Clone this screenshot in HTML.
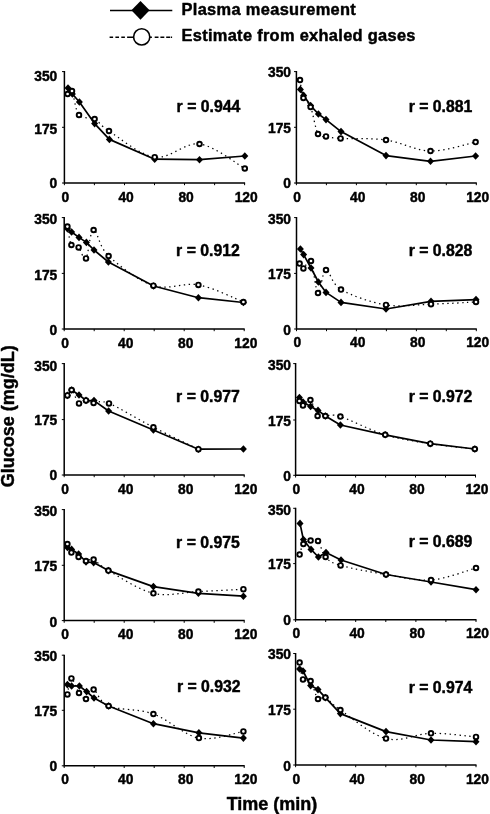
<!DOCTYPE html>
<html lang="en"><head><meta charset="utf-8"><title>Glucose: plasma vs exhaled-gas estimate</title>
<style>
html,body{margin:0;padding:0;background:#fff;}
svg{display:block;font-family:"Liberation Sans",Arial,Helvetica,sans-serif;font-weight:bold;fill:#000;}
text{stroke:#000;stroke-width:0.45px;stroke-linejoin:round}
.ax{stroke:#000;stroke-width:1.5;fill:none;stroke-linecap:butt}
.tk{stroke:#000;stroke-width:1;fill:none}
.sl{stroke:#000;stroke-width:1.7;fill:none;stroke-linejoin:round}
.dl{stroke:#000;stroke-width:1.25;fill:none;stroke-dasharray:1.4 3.5}
.c{fill:#fff;stroke:#000;stroke-width:1.9}
.d{fill:#000;stroke:none}
.t{font-size:13.8px}
.r{font-size:15.8px}
</style></head><body>
<svg width="490" height="814" viewBox="0 0 490 814">
<rect width="490" height="814" fill="#fff"/>

<g id="legend">
<path class="ax" style="stroke-width:1.5" d="M110 10.6H172.3"/>
<path class="d" d="M140.5 0.9L149.6 10.3L140.5 19.7L131.4 10.3Z"/>
<path d="M109.6 37.2H113.1M115.4 37.2H119M121.3 37.2H124.9M127.1 37.2H133M150 37.2H151.9M154.7 37.2H158.5M160.4 37.2H164.3M166.2 37.2H170M170.7 37.2H172.1" style="stroke:#000;stroke-width:1.6;fill:none"/>
<circle cx="141.7" cy="36.9" r="8.1" style="fill:#fff;stroke:#000;stroke-width:1.6"/>
<text x="181.5" y="14.7" style="font-size:16.4px;letter-spacing:0.34px">Plasma measurement</text>
<text x="181.5" y="41.4" style="font-size:16.4px;letter-spacing:0.31px">Estimate from exhaled gases</text>
</g>
<text transform="translate(13.8 416.2) rotate(-90)" text-anchor="middle" style="font-size:18px">Glucose (mg/dL)</text>
<text x="272" y="809.6" text-anchor="middle" style="font-size:18px">Time (min)</text>
<g id="p1">
<path class="ax" d="M64.4 71.1V183.0H245.1"/>
<path class="tk" d="M62.0 71.6H64.4M62.0 127.3H64.4M62.0 183.0H64.4M64.4 183.0V185.2M94.4 183.0V185.2M124.5 183.0V185.2M154.5 183.0V185.2M184.5 183.0V185.2M214.6 183.0V185.2M244.6 183.0V185.2"/>
<text class="t" x="57.3" y="80.8" text-anchor="end">350</text>
<text class="t" x="57.3" y="133.8" text-anchor="end">175</text>
<text class="t" x="57.3" y="188.1" text-anchor="end">0</text>
<text class="t" x="65.4" y="201.5" text-anchor="middle">0</text>
<text class="t" x="126.1" y="201.5" text-anchor="middle">40</text>
<text class="t" x="186.1" y="201.5" text-anchor="middle">80</text>
<text class="t" x="246.2" y="201.5" text-anchor="middle">120</text>
<path class="dl" d="M67.6 94.0 C68.3 93.5 70.1 87.5 72.0 91.0 C73.9 94.5 75.2 110.3 79.0 115.0 C82.8 119.7 89.6 116.3 94.6 119.0 C99.6 121.7 99.0 124.6 109.0 131.0 C119.0 137.4 139.6 155.0 154.7 157.2 C169.8 159.4 184.5 142.1 199.5 144.0 C214.5 145.9 237.2 164.4 244.8 168.5"/>
<path class="sl" d="M68.0 88.0 L72.4 94.0 L79.4 102.0 L94.6 123.6 L109.4 139.4 L154.7 159.2 L199.5 159.7 L244.8 156.0"/>
<path class="d" d="M68.0 84.2L71.5 88.0L68.0 91.8L64.5 88.0Z"/>
<path class="d" d="M72.4 90.2L75.9 94.0L72.4 97.8L68.9 94.0Z"/>
<path class="d" d="M79.4 98.2L82.9 102.0L79.4 105.8L75.9 102.0Z"/>
<path class="d" d="M94.6 119.8L98.1 123.6L94.6 127.4L91.1 123.6Z"/>
<path class="d" d="M109.4 135.6L112.9 139.4L109.4 143.2L105.9 139.4Z"/>
<path class="d" d="M154.7 155.4L158.2 159.2L154.7 163.0L151.2 159.2Z"/>
<path class="d" d="M199.5 155.9L203.0 159.7L199.5 163.5L196.0 159.7Z"/>
<path class="d" d="M244.8 152.2L248.3 156.0L244.8 159.8L241.3 156.0Z"/>
<circle class="c" cx="67.6" cy="94.0" r="2.3"/>
<circle class="c" cx="72.0" cy="91.0" r="2.3"/>
<circle class="c" cx="79.0" cy="115.0" r="2.3"/>
<circle class="c" cx="94.6" cy="119.0" r="2.3"/>
<circle class="c" cx="109.0" cy="131.0" r="2.3"/>
<circle class="c" cx="154.7" cy="157.2" r="2.3"/>
<circle class="c" cx="199.5" cy="144.0" r="2.3"/>
<circle class="c" cx="244.8" cy="168.5" r="2.3"/>
<text class="r" x="176.6" y="111.9">r = 0.944</text>
</g>
<g id="p2">
<path class="ax" d="M296.4 71.1V183.0H476.8"/>
<path class="tk" d="M294.0 71.6H296.4M294.0 127.3H296.4M294.0 183.0H296.4M296.4 183.0V185.2M326.4 183.0V185.2M356.4 183.0V185.2M386.3 183.0V185.2M416.3 183.0V185.2M446.3 183.0V185.2M476.3 183.0V185.2"/>
<text class="t" x="291.0" y="76.9" text-anchor="end">350</text>
<text class="t" x="291.0" y="133.3" text-anchor="end">175</text>
<text class="t" x="291.0" y="188.1" text-anchor="end">0</text>
<text class="t" x="297.2" y="201.5" text-anchor="middle">0</text>
<text class="t" x="357.8" y="201.5" text-anchor="middle">40</text>
<text class="t" x="417.7" y="201.5" text-anchor="middle">80</text>
<text class="t" x="477.7" y="201.5" text-anchor="middle">120</text>
<path class="dl" d="M300.0 80.0 C300.6 83.0 301.6 93.5 303.4 98.0 C305.2 102.5 308.2 101.0 310.6 107.0 C313.0 113.0 315.4 129.1 318.0 134.0 C320.6 138.9 322.2 135.7 326.0 136.4 C329.8 137.1 330.6 137.8 340.6 138.4 C350.6 139.0 371.0 137.9 386.0 140.0 C401.0 142.1 415.6 150.7 430.5 151.0 C445.4 151.3 468.1 143.6 475.6 142.1"/>
<path class="sl" d="M300.4 89.4 L303.6 95.4 L310.6 105.6 L318.4 114.0 L326.0 119.6 L341.0 131.6 L386.0 155.6 L430.5 161.3 L475.6 156.0"/>
<path class="d" d="M300.4 85.6L303.9 89.4L300.4 93.2L296.9 89.4Z"/>
<path class="d" d="M303.6 91.6L307.1 95.4L303.6 99.2L300.1 95.4Z"/>
<path class="d" d="M310.6 101.8L314.1 105.6L310.6 109.4L307.1 105.6Z"/>
<path class="d" d="M318.4 110.2L321.9 114.0L318.4 117.8L314.9 114.0Z"/>
<path class="d" d="M326.0 115.8L329.5 119.6L326.0 123.4L322.5 119.6Z"/>
<path class="d" d="M341.0 127.8L344.5 131.6L341.0 135.4L337.5 131.6Z"/>
<path class="d" d="M386.0 151.8L389.5 155.6L386.0 159.4L382.5 155.6Z"/>
<path class="d" d="M430.5 157.5L434.0 161.3L430.5 165.1L427.0 161.3Z"/>
<path class="d" d="M475.6 152.2L479.1 156.0L475.6 159.8L472.1 156.0Z"/>
<circle class="c" cx="300.0" cy="80.0" r="2.3"/>
<circle class="c" cx="303.4" cy="98.0" r="2.3"/>
<circle class="c" cx="310.6" cy="107.0" r="2.3"/>
<circle class="c" cx="318.0" cy="134.0" r="2.3"/>
<circle class="c" cx="326.0" cy="136.4" r="2.3"/>
<circle class="c" cx="340.6" cy="138.4" r="2.3"/>
<circle class="c" cx="386.0" cy="140.0" r="2.3"/>
<circle class="c" cx="430.5" cy="151.0" r="2.3"/>
<circle class="c" cx="475.6" cy="142.1" r="2.3"/>
<text class="r" x="408.7" y="112.0">r = 0.881</text>
</g>
<g id="p3">
<path class="ax" d="M64.2 217.1V329.0H244.7"/>
<path class="tk" d="M61.8 217.6H64.2M61.8 273.4H64.2M61.8 329.0H64.2M64.2 329.0V331.2M94.2 329.0V331.2M124.2 329.0V331.2M154.2 329.0V331.2M184.2 329.0V331.2M214.2 329.0V331.2M244.2 329.0V331.2"/>
<text class="t" x="57.3" y="224.1" text-anchor="end">350</text>
<text class="t" x="57.3" y="279.8" text-anchor="end">175</text>
<text class="t" x="57.3" y="335.0" text-anchor="end">0</text>
<text class="t" x="65.2" y="347.5" text-anchor="middle">0</text>
<text class="t" x="125.8" y="347.5" text-anchor="middle">40</text>
<text class="t" x="185.8" y="347.5" text-anchor="middle">80</text>
<text class="t" x="245.8" y="347.5" text-anchor="middle">120</text>
<path class="dl" d="M67.4 226.6 C68.1 229.7 69.5 241.5 71.4 245.0 C73.3 248.5 76.2 245.2 78.6 247.4 C81.0 249.6 83.5 261.3 86.0 258.4 C88.5 255.5 89.8 230.4 93.6 230.0 C97.4 229.6 98.6 246.7 108.6 256.0 C118.6 265.3 138.4 280.9 153.4 285.7 C168.4 290.5 183.4 282.2 198.4 284.9 C213.4 287.6 235.9 299.1 243.4 302.0"/>
<path class="sl" d="M67.4 228.6 L71.6 232.0 L79.0 237.4 L86.4 242.4 L94.0 250.0 L108.4 262.0 L153.6 286.0 L198.4 297.7 L243.4 302.5"/>
<path class="d" d="M67.4 224.8L70.9 228.6L67.4 232.4L63.9 228.6Z"/>
<path class="d" d="M71.6 228.2L75.1 232.0L71.6 235.8L68.1 232.0Z"/>
<path class="d" d="M79.0 233.6L82.5 237.4L79.0 241.2L75.5 237.4Z"/>
<path class="d" d="M86.4 238.6L89.9 242.4L86.4 246.2L82.9 242.4Z"/>
<path class="d" d="M94.0 246.2L97.5 250.0L94.0 253.8L90.5 250.0Z"/>
<path class="d" d="M108.4 258.2L111.9 262.0L108.4 265.8L104.9 262.0Z"/>
<path class="d" d="M153.6 282.2L157.1 286.0L153.6 289.8L150.1 286.0Z"/>
<path class="d" d="M198.4 293.9L201.9 297.7L198.4 301.5L194.9 297.7Z"/>
<path class="d" d="M243.4 298.7L246.9 302.5L243.4 306.3L239.9 302.5Z"/>
<circle class="c" cx="67.4" cy="226.6" r="2.3"/>
<circle class="c" cx="71.4" cy="245.0" r="2.3"/>
<circle class="c" cx="78.6" cy="247.4" r="2.3"/>
<circle class="c" cx="86.0" cy="258.4" r="2.3"/>
<circle class="c" cx="93.6" cy="230.0" r="2.3"/>
<circle class="c" cx="108.6" cy="256.0" r="2.3"/>
<circle class="c" cx="153.4" cy="285.7" r="2.3"/>
<circle class="c" cx="198.4" cy="284.9" r="2.3"/>
<circle class="c" cx="243.4" cy="302.0" r="2.3"/>
<text class="r" x="176.1" y="255.5">r = 0.912</text>
</g>
<g id="p4">
<path class="ax" d="M296.5 217.1V329.0H476.8"/>
<path class="tk" d="M294.1 217.6H296.5M294.1 273.4H296.5M294.1 329.0H296.5M296.5 329.0V331.2M326.5 329.0V331.2M356.4 329.0V331.2M386.4 329.0V331.2M416.4 329.0V331.2M446.3 329.0V331.2M476.3 329.0V331.2"/>
<text class="t" x="291.0" y="224.1" text-anchor="end">350</text>
<text class="t" x="291.0" y="279.3" text-anchor="end">175</text>
<text class="t" x="291.0" y="334.9" text-anchor="end">0</text>
<text class="t" x="297.3" y="347.3" text-anchor="middle">0</text>
<text class="t" x="357.8" y="347.3" text-anchor="middle">40</text>
<text class="t" x="417.8" y="347.3" text-anchor="middle">80</text>
<text class="t" x="477.7" y="347.3" text-anchor="middle">120</text>
<path class="dl" d="M299.6 263.6 C300.2 264.4 301.5 268.8 303.4 268.4 C305.3 268.0 308.6 256.9 311.0 261.0 C313.4 265.1 315.5 291.5 318.0 293.0 C320.5 294.5 322.2 270.6 326.0 270.0 C329.8 269.4 331.0 283.8 341.0 289.6 C351.0 295.4 371.0 302.5 386.0 304.9 C401.0 307.3 416.0 304.7 431.0 304.2 C446.0 303.7 468.5 302.4 476.0 302.0"/>
<path class="sl" d="M300.4 249.0 L303.6 254.6 L311.0 268.0 L318.4 282.0 L326.0 292.4 L341.0 302.4 L386.0 309.0 L431.0 301.3 L476.0 299.6"/>
<path class="d" d="M300.4 245.2L303.9 249.0L300.4 252.8L296.9 249.0Z"/>
<path class="d" d="M303.6 250.8L307.1 254.6L303.6 258.4L300.1 254.6Z"/>
<path class="d" d="M311.0 264.2L314.5 268.0L311.0 271.8L307.5 268.0Z"/>
<path class="d" d="M318.4 278.2L321.9 282.0L318.4 285.8L314.9 282.0Z"/>
<path class="d" d="M326.0 288.6L329.5 292.4L326.0 296.2L322.5 292.4Z"/>
<path class="d" d="M341.0 298.6L344.5 302.4L341.0 306.2L337.5 302.4Z"/>
<path class="d" d="M386.0 305.2L389.5 309.0L386.0 312.8L382.5 309.0Z"/>
<path class="d" d="M431.0 297.5L434.5 301.3L431.0 305.1L427.5 301.3Z"/>
<path class="d" d="M476.0 295.8L479.5 299.6L476.0 303.4L472.5 299.6Z"/>
<circle class="c" cx="299.6" cy="263.6" r="2.3"/>
<circle class="c" cx="303.4" cy="268.4" r="2.3"/>
<circle class="c" cx="311.0" cy="261.0" r="2.3"/>
<circle class="c" cx="318.0" cy="293.0" r="2.3"/>
<circle class="c" cx="326.0" cy="270.0" r="2.3"/>
<circle class="c" cx="341.0" cy="289.6" r="2.3"/>
<circle class="c" cx="386.0" cy="304.9" r="2.3"/>
<circle class="c" cx="431.0" cy="304.2" r="2.3"/>
<circle class="c" cx="476.0" cy="302.0" r="2.3"/>
<text class="r" x="408.7" y="255.5">r = 0.828</text>
</g>
<g id="p5">
<path class="ax" d="M64.2 363.1V475.0H244.7"/>
<path class="tk" d="M61.8 363.6H64.2M61.8 419.6H64.2M61.8 475.0H64.2M64.2 475.0V477.2M94.2 475.0V477.2M124.2 475.0V477.2M154.2 475.0V477.2M184.2 475.0V477.2M214.2 475.0V477.2M244.2 475.0V477.2"/>
<text class="t" x="57.3" y="370.7" text-anchor="end">350</text>
<text class="t" x="57.3" y="424.8" text-anchor="end">175</text>
<text class="t" x="57.3" y="480.1" text-anchor="end">0</text>
<text class="t" x="65.2" y="493.7" text-anchor="middle">0</text>
<text class="t" x="125.8" y="493.7" text-anchor="middle">40</text>
<text class="t" x="185.8" y="493.7" text-anchor="middle">80</text>
<text class="t" x="245.8" y="493.7" text-anchor="middle">120</text>
<path class="dl" d="M67.4 395.4 C68.1 394.5 69.7 388.7 71.6 390.0 C73.5 391.3 76.6 401.7 79.0 403.4 C81.4 405.1 83.6 400.5 86.0 400.4 C88.4 400.3 89.8 402.5 93.6 403.0 C97.4 403.5 99.0 399.3 109.0 403.4 C119.0 407.4 138.5 419.7 153.4 427.3 C168.3 434.9 190.9 445.6 198.4 449.2"/>
<path class="sl" d="M67.4 395.4 L71.6 390.0 L79.0 395.0 L86.0 400.4 L94.0 400.6 L108.6 411.0 L153.4 430.0 L198.4 449.2 L243.4 449.0"/>
<path class="d" d="M67.4 391.6L70.9 395.4L67.4 399.2L63.9 395.4Z"/>
<path class="d" d="M71.6 386.2L75.1 390.0L71.6 393.8L68.1 390.0Z"/>
<path class="d" d="M79.0 391.2L82.5 395.0L79.0 398.8L75.5 395.0Z"/>
<path class="d" d="M86.0 396.6L89.5 400.4L86.0 404.2L82.5 400.4Z"/>
<path class="d" d="M94.0 396.8L97.5 400.6L94.0 404.4L90.5 400.6Z"/>
<path class="d" d="M108.6 407.2L112.1 411.0L108.6 414.8L105.1 411.0Z"/>
<path class="d" d="M153.4 426.2L156.9 430.0L153.4 433.8L149.9 430.0Z"/>
<path class="d" d="M198.4 445.4L201.9 449.2L198.4 453.0L194.9 449.2Z"/>
<path class="d" d="M243.4 445.2L246.9 449.0L243.4 452.8L239.9 449.0Z"/>
<circle class="c" cx="67.4" cy="395.4" r="2.3"/>
<circle class="c" cx="71.6" cy="390.0" r="2.3"/>
<circle class="c" cx="79.0" cy="403.4" r="2.3"/>
<circle class="c" cx="86.0" cy="400.4" r="2.3"/>
<circle class="c" cx="93.6" cy="403.0" r="2.3"/>
<circle class="c" cx="109.0" cy="403.4" r="2.3"/>
<circle class="c" cx="153.4" cy="427.3" r="2.3"/>
<circle class="c" cx="198.4" cy="449.2" r="2.3"/>
<text class="r" x="176.1" y="401.5">r = 0.977</text>
</g>
<g id="p6">
<path class="ax" d="M295.6 363.1V475.3H476.0"/>
<path class="tk" d="M293.2 363.6H295.6M293.2 420.0H295.6M293.2 475.3H295.6M295.6 475.3V477.5M325.6 475.3V477.5M355.6 475.3V477.5M385.6 475.3V477.5M415.5 475.3V477.5M445.5 475.3V477.5M475.5 475.3V477.5"/>
<text class="t" x="291.0" y="370.1" text-anchor="end">350</text>
<text class="t" x="291.0" y="426.2" text-anchor="end">175</text>
<text class="t" x="291.0" y="481.3" text-anchor="end">0</text>
<text class="t" x="296.4" y="494.2" text-anchor="middle">0</text>
<text class="t" x="357.0" y="494.2" text-anchor="middle">40</text>
<text class="t" x="416.9" y="494.2" text-anchor="middle">80</text>
<text class="t" x="476.9" y="494.2" text-anchor="middle">120</text>
<path class="dl" d="M299.4 401.0 C300.0 401.7 301.2 405.6 303.0 405.4 C304.8 405.2 308.0 398.2 310.4 400.0 C312.8 401.8 315.1 413.3 317.6 416.0 C320.1 418.7 321.6 415.9 325.4 416.0 C329.2 416.1 330.4 413.5 340.4 416.6 C350.4 419.7 370.2 430.3 385.2 434.8 C400.2 439.3 415.4 441.3 430.3 443.7 C445.2 446.1 467.4 448.1 474.8 449.0"/>
<path class="sl" d="M299.4 397.6 L303.0 402.0 L310.6 406.4 L318.0 410.4 L325.4 416.0 L340.4 425.0 L385.2 434.8 L430.3 443.7 L474.8 449.0"/>
<path class="d" d="M299.4 393.8L302.9 397.6L299.4 401.4L295.9 397.6Z"/>
<path class="d" d="M303.0 398.2L306.5 402.0L303.0 405.8L299.5 402.0Z"/>
<path class="d" d="M310.6 402.6L314.1 406.4L310.6 410.2L307.1 406.4Z"/>
<path class="d" d="M318.0 406.6L321.5 410.4L318.0 414.2L314.5 410.4Z"/>
<path class="d" d="M325.4 412.2L328.9 416.0L325.4 419.8L321.9 416.0Z"/>
<path class="d" d="M340.4 421.2L343.9 425.0L340.4 428.8L336.9 425.0Z"/>
<path class="d" d="M385.2 431.0L388.7 434.8L385.2 438.6L381.7 434.8Z"/>
<path class="d" d="M430.3 439.9L433.8 443.7L430.3 447.5L426.8 443.7Z"/>
<path class="d" d="M474.8 445.2L478.3 449.0L474.8 452.8L471.3 449.0Z"/>
<circle class="c" cx="299.4" cy="401.0" r="2.3"/>
<circle class="c" cx="303.0" cy="405.4" r="2.3"/>
<circle class="c" cx="310.4" cy="400.0" r="2.3"/>
<circle class="c" cx="317.6" cy="416.0" r="2.3"/>
<circle class="c" cx="325.4" cy="416.0" r="2.3"/>
<circle class="c" cx="340.4" cy="416.6" r="2.3"/>
<circle class="c" cx="385.2" cy="434.8" r="2.3"/>
<circle class="c" cx="430.3" cy="443.7" r="2.3"/>
<circle class="c" cx="474.8" cy="449.0" r="2.3"/>
<text class="r" x="408.7" y="402.0">r = 0.972</text>
</g>
<g id="p7">
<path class="ax" d="M64.2 509.1V620.6H244.7"/>
<path class="tk" d="M61.8 509.6H64.2M61.8 565.3H64.2M61.8 620.6H64.2M64.2 620.6V622.8M94.2 620.6V622.8M124.2 620.6V622.8M154.2 620.6V622.8M184.2 620.6V622.8M214.2 620.6V622.8M244.2 620.6V622.8"/>
<text class="t" x="57.3" y="516.1" text-anchor="end">350</text>
<text class="t" x="57.3" y="570.9" text-anchor="end">175</text>
<text class="t" x="57.3" y="626.6" text-anchor="end">0</text>
<text class="t" x="65.2" y="638.9" text-anchor="middle">0</text>
<text class="t" x="125.8" y="638.9" text-anchor="middle">40</text>
<text class="t" x="185.8" y="638.9" text-anchor="middle">80</text>
<text class="t" x="245.8" y="638.9" text-anchor="middle">120</text>
<path class="dl" d="M67.4 544.0 C68.1 545.4 69.5 550.4 71.4 552.6 C73.3 554.8 76.2 555.6 78.6 557.0 C81.0 558.4 83.5 560.6 86.0 561.0 C88.5 561.4 89.9 558.0 93.6 559.6 C97.3 561.2 98.4 565.0 108.4 570.6 C118.4 576.2 138.4 589.8 153.4 593.3 C168.4 596.8 183.4 592.3 198.4 591.6 C213.4 590.9 235.9 589.6 243.4 589.2"/>
<path class="sl" d="M67.4 547.4 L71.6 549.4 L78.6 554.0 L86.0 562.0 L93.6 562.6 L108.4 570.6 L153.4 586.6 L198.4 593.3 L243.4 596.2"/>
<path class="d" d="M67.4 543.6L70.9 547.4L67.4 551.2L63.9 547.4Z"/>
<path class="d" d="M71.6 545.6L75.1 549.4L71.6 553.2L68.1 549.4Z"/>
<path class="d" d="M78.6 550.2L82.1 554.0L78.6 557.8L75.1 554.0Z"/>
<path class="d" d="M86.0 558.2L89.5 562.0L86.0 565.8L82.5 562.0Z"/>
<path class="d" d="M93.6 558.8L97.1 562.6L93.6 566.4L90.1 562.6Z"/>
<path class="d" d="M108.4 566.8L111.9 570.6L108.4 574.4L104.9 570.6Z"/>
<path class="d" d="M153.4 582.8L156.9 586.6L153.4 590.4L149.9 586.6Z"/>
<path class="d" d="M198.4 589.5L201.9 593.3L198.4 597.1L194.9 593.3Z"/>
<path class="d" d="M243.4 592.4L246.9 596.2L243.4 600.0L239.9 596.2Z"/>
<circle class="c" cx="67.4" cy="544.0" r="2.3"/>
<circle class="c" cx="71.4" cy="552.6" r="2.3"/>
<circle class="c" cx="78.6" cy="557.0" r="2.3"/>
<circle class="c" cx="86.0" cy="561.0" r="2.3"/>
<circle class="c" cx="93.6" cy="559.6" r="2.3"/>
<circle class="c" cx="108.4" cy="570.6" r="2.3"/>
<circle class="c" cx="153.4" cy="593.3" r="2.3"/>
<circle class="c" cx="198.4" cy="591.6" r="2.3"/>
<circle class="c" cx="243.4" cy="589.2" r="2.3"/>
<text class="r" x="176.1" y="547.6">r = 0.975</text>
</g>
<g id="p8">
<path class="ax" d="M295.6 507.8V619.8H476.5"/>
<path class="tk" d="M293.2 508.3H295.6M293.2 563.6H295.6M293.2 619.8H295.6M295.6 619.8V622.0M325.7 619.8V622.0M355.7 619.8V622.0M385.8 619.8V622.0M415.9 619.8V622.0M445.9 619.8V622.0M476.0 619.8V622.0"/>
<text class="t" x="291.0" y="514.6" text-anchor="end">350</text>
<text class="t" x="291.0" y="568.6" text-anchor="end">175</text>
<text class="t" x="291.0" y="624.9" text-anchor="end">0</text>
<text class="t" x="296.4" y="638.1" text-anchor="middle">0</text>
<text class="t" x="357.1" y="638.1" text-anchor="middle">40</text>
<text class="t" x="417.3" y="638.1" text-anchor="middle">80</text>
<text class="t" x="477.4" y="638.1" text-anchor="middle">120</text>
<path class="dl" d="M299.6 554.6 C300.2 552.8 301.6 546.3 303.4 544.0 C305.2 541.7 308.2 541.1 310.6 540.6 C313.0 540.1 315.5 538.3 318.0 541.0 C320.5 543.7 321.8 552.9 325.6 557.0 C329.4 561.1 330.5 562.5 340.6 565.4 C350.7 568.3 370.9 572.1 386.0 574.5 C401.1 576.9 416.0 581.1 431.0 580.0 C446.0 578.9 468.5 570.0 476.0 568.0"/>
<path class="sl" d="M300.0 523.4 L303.4 539.6 L311.0 549.4 L318.4 557.0 L326.0 552.6 L341.0 560.0 L386.0 574.5 L431.0 582.0 L476.0 589.7"/>
<path class="d" d="M300.0 519.6L303.5 523.4L300.0 527.2L296.5 523.4Z"/>
<path class="d" d="M303.4 535.8L306.9 539.6L303.4 543.4L299.9 539.6Z"/>
<path class="d" d="M311.0 545.6L314.5 549.4L311.0 553.2L307.5 549.4Z"/>
<path class="d" d="M318.4 553.2L321.9 557.0L318.4 560.8L314.9 557.0Z"/>
<path class="d" d="M326.0 548.8L329.5 552.6L326.0 556.4L322.5 552.6Z"/>
<path class="d" d="M341.0 556.2L344.5 560.0L341.0 563.8L337.5 560.0Z"/>
<path class="d" d="M386.0 570.7L389.5 574.5L386.0 578.3L382.5 574.5Z"/>
<path class="d" d="M431.0 578.2L434.5 582.0L431.0 585.8L427.5 582.0Z"/>
<path class="d" d="M476.0 585.9L479.5 589.7L476.0 593.5L472.5 589.7Z"/>
<circle class="c" cx="299.6" cy="554.6" r="2.3"/>
<circle class="c" cx="303.4" cy="544.0" r="2.3"/>
<circle class="c" cx="310.6" cy="540.6" r="2.3"/>
<circle class="c" cx="318.0" cy="541.0" r="2.3"/>
<circle class="c" cx="325.6" cy="557.0" r="2.3"/>
<circle class="c" cx="340.6" cy="565.4" r="2.3"/>
<circle class="c" cx="386.0" cy="574.5" r="2.3"/>
<circle class="c" cx="431.0" cy="580.0" r="2.3"/>
<circle class="c" cx="476.0" cy="568.0" r="2.3"/>
<text class="r" x="408.7" y="547.0">r = 0.689</text>
</g>
<g id="p9">
<path class="ax" d="M64.2 654.7V765.8H244.7"/>
<path class="tk" d="M61.8 655.2H64.2M61.8 710.3H64.2M61.8 765.8H64.2M64.2 765.8V768.0M94.2 765.8V768.0M124.2 765.8V768.0M154.2 765.8V768.0M184.2 765.8V768.0M214.2 765.8V768.0M244.2 765.8V768.0"/>
<text class="t" x="57.3" y="660.7" text-anchor="end">350</text>
<text class="t" x="57.3" y="715.7" text-anchor="end">175</text>
<text class="t" x="57.3" y="771.1" text-anchor="end">0</text>
<text class="t" x="65.2" y="784.1" text-anchor="middle">0</text>
<text class="t" x="125.8" y="784.1" text-anchor="middle">40</text>
<text class="t" x="185.8" y="784.1" text-anchor="middle">80</text>
<text class="t" x="245.8" y="784.1" text-anchor="middle">120</text>
<path class="dl" d="M67.4 694.4 C68.1 691.7 69.5 678.6 71.4 678.4 C73.3 678.2 76.6 689.6 79.0 693.0 C81.4 696.4 83.6 699.6 86.0 699.0 C88.4 698.4 89.8 688.4 93.6 689.6 C97.4 690.8 98.6 701.9 108.6 706.0 C118.6 710.1 138.3 708.6 153.4 714.0 C168.5 719.4 183.9 735.2 198.9 738.1 C213.9 741.0 236.0 732.5 243.4 731.4"/>
<path class="sl" d="M67.4 684.6 L71.6 686.0 L79.4 686.0 L86.6 691.6 L94.0 698.0 L108.6 706.0 L153.4 723.7 L198.9 732.8 L243.4 738.1"/>
<path class="d" d="M67.4 680.8L70.9 684.6L67.4 688.4L63.9 684.6Z"/>
<path class="d" d="M71.6 682.2L75.1 686.0L71.6 689.8L68.1 686.0Z"/>
<path class="d" d="M79.4 682.2L82.9 686.0L79.4 689.8L75.9 686.0Z"/>
<path class="d" d="M86.6 687.8L90.1 691.6L86.6 695.4L83.1 691.6Z"/>
<path class="d" d="M94.0 694.2L97.5 698.0L94.0 701.8L90.5 698.0Z"/>
<path class="d" d="M108.6 702.2L112.1 706.0L108.6 709.8L105.1 706.0Z"/>
<path class="d" d="M153.4 719.9L156.9 723.7L153.4 727.5L149.9 723.7Z"/>
<path class="d" d="M198.9 729.0L202.4 732.8L198.9 736.6L195.4 732.8Z"/>
<path class="d" d="M243.4 734.3L246.9 738.1L243.4 741.9L239.9 738.1Z"/>
<circle class="c" cx="67.4" cy="694.4" r="2.3"/>
<circle class="c" cx="71.4" cy="678.4" r="2.3"/>
<circle class="c" cx="79.0" cy="693.0" r="2.3"/>
<circle class="c" cx="86.0" cy="699.0" r="2.3"/>
<circle class="c" cx="93.6" cy="689.6" r="2.3"/>
<circle class="c" cx="108.6" cy="706.0" r="2.3"/>
<circle class="c" cx="153.4" cy="714.0" r="2.3"/>
<circle class="c" cx="198.9" cy="738.1" r="2.3"/>
<circle class="c" cx="243.4" cy="731.4" r="2.3"/>
<text class="r" x="176.9" y="692.3">r = 0.932</text>
</g>
<g id="p10">
<path class="ax" d="M295.6 653.0V765.0H476.5"/>
<path class="tk" d="M293.2 653.5H295.6M293.2 709.2H295.6M293.2 765.0H295.6M295.6 765.0V767.2M325.7 765.0V767.2M355.7 765.0V767.2M385.8 765.0V767.2M415.9 765.0V767.2M445.9 765.0V767.2M476.0 765.0V767.2"/>
<text class="t" x="291.0" y="659.3" text-anchor="end">350</text>
<text class="t" x="291.0" y="715.0" text-anchor="end">175</text>
<text class="t" x="291.0" y="770.5" text-anchor="end">0</text>
<text class="t" x="296.4" y="783.6" text-anchor="middle">0</text>
<text class="t" x="357.1" y="783.6" text-anchor="middle">40</text>
<text class="t" x="417.3" y="783.6" text-anchor="middle">80</text>
<text class="t" x="477.4" y="783.6" text-anchor="middle">120</text>
<path class="dl" d="M299.6 662.6 C300.2 665.4 301.2 676.3 303.0 679.4 C304.8 682.5 308.1 677.7 310.6 681.0 C313.1 684.3 315.5 696.2 318.0 699.0 C320.5 701.8 321.7 695.8 325.4 697.6 C329.1 699.4 330.3 703.2 340.4 710.0 C350.5 716.8 370.9 734.7 386.0 738.6 C401.1 742.5 416.0 733.6 431.0 733.3 C446.0 733.0 468.5 736.3 476.0 736.9"/>
<path class="sl" d="M299.6 669.0 L303.0 671.0 L310.6 685.6 L318.0 689.6 L325.4 697.6 L340.4 713.6 L386.0 731.6 L431.0 740.0 L476.0 741.7"/>
<path class="d" d="M299.6 665.2L303.1 669.0L299.6 672.8L296.1 669.0Z"/>
<path class="d" d="M303.0 667.2L306.5 671.0L303.0 674.8L299.5 671.0Z"/>
<path class="d" d="M310.6 681.8L314.1 685.6L310.6 689.4L307.1 685.6Z"/>
<path class="d" d="M318.0 685.8L321.5 689.6L318.0 693.4L314.5 689.6Z"/>
<path class="d" d="M325.4 693.8L328.9 697.6L325.4 701.4L321.9 697.6Z"/>
<path class="d" d="M340.4 709.8L343.9 713.6L340.4 717.4L336.9 713.6Z"/>
<path class="d" d="M386.0 727.8L389.5 731.6L386.0 735.4L382.5 731.6Z"/>
<path class="d" d="M431.0 736.2L434.5 740.0L431.0 743.8L427.5 740.0Z"/>
<path class="d" d="M476.0 737.9L479.5 741.7L476.0 745.5L472.5 741.7Z"/>
<circle class="c" cx="299.6" cy="662.6" r="2.3"/>
<circle class="c" cx="303.0" cy="679.4" r="2.3"/>
<circle class="c" cx="310.6" cy="681.0" r="2.3"/>
<circle class="c" cx="318.0" cy="699.0" r="2.3"/>
<circle class="c" cx="325.4" cy="697.6" r="2.3"/>
<circle class="c" cx="340.4" cy="710.0" r="2.3"/>
<circle class="c" cx="386.0" cy="738.6" r="2.3"/>
<circle class="c" cx="431.0" cy="733.3" r="2.3"/>
<circle class="c" cx="476.0" cy="736.9" r="2.3"/>
<text class="r" x="408.7" y="693.0">r = 0.974</text>
</g>
</svg>
</body></html>
